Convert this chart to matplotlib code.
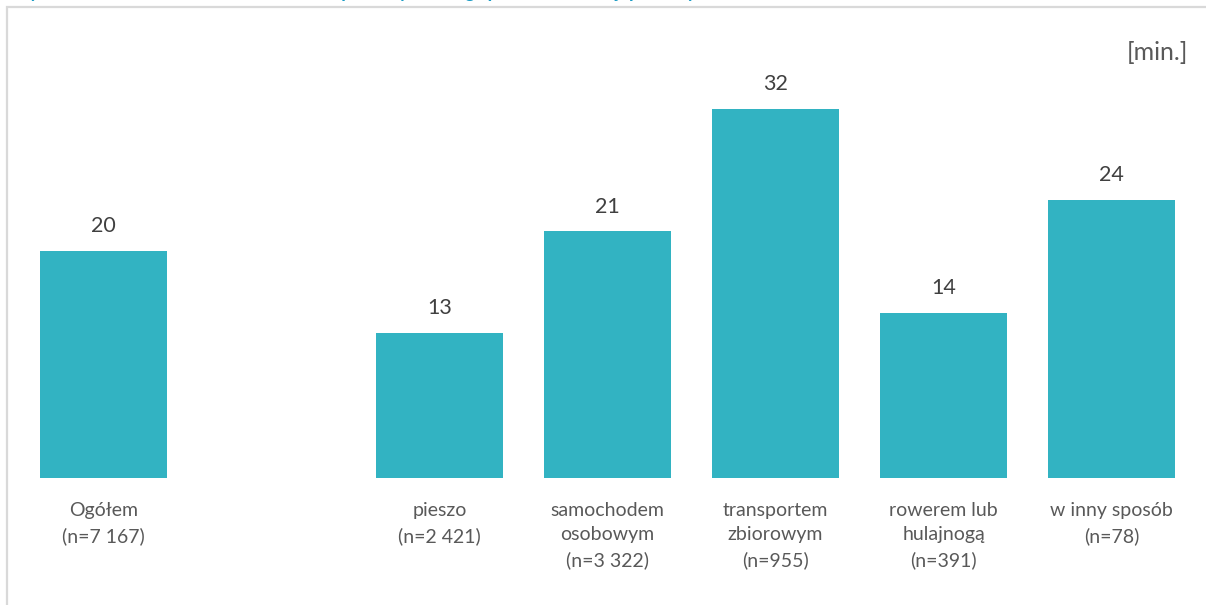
import matplotlib
matplotlib.use("Agg")
import matplotlib.pyplot as plt
from matplotlib.patches import Rectangle

# travel time by mode of travel (minutes)
categories = ["Ogółem\n(n=7 167)", "", "pieszo\n(n=2 421)",
              "samochodem\nosobowym\n(n=3 322)", "transportem\nzbiorowym\n(n=955)",
              "rowerem lub\nhulajnogą\n(n=391)", "w inny sposób\n(n=78)"]
values = [19.7, None, 12.6, 21.4, 32.0, 14.3, 24.1]
labels = ["20", "", "13", "21", "32", "14", "24"]
title = "Wykres 12. Średni czas dotarcia do celu podróży według sposobu realizacji podróży"

BAR = "#32b3c2"
W, H = 1206, 605

plt.rcParams["font.family"] = ["Lato", "DejaVu Sans"]
fig = plt.figure(figsize=(W / 100, H / 100), dpi=100)
ax = fig.add_axes([19.5 / W, (H - 478) / H, (1195.5 - 19.5) / W, (478 - 40) / H])

xs = [i for i, v in enumerate(values) if v is not None]
vs = [v for v in values if v is not None]
ax.bar(xs, vs, width=0.756, color=BAR)
for x, v in zip(xs, vs):
    ax.annotate(labels[x], (x, v), xytext=(0, 13.5), textcoords="offset points",
                ha="center", va="baseline", fontsize=15.5, color="#404040")

ax.set_xlim(-0.5, 6.5)
ax.set_ylim(0, 38)
ax.set_yticks([])
ax.set_xticks(range(len(categories)))
ax.set_xticklabels(categories, fontsize=14, color="#595959", linespacing=1.55)
ax.tick_params(axis="x", length=0, pad=17)
for s in ax.spines.values():
    s.set_visible(False)

fig.text(1188 / W, 1 - 52 / H, "[min.]", ha="right", va="center", fontsize=18, color="#595959")
# title sits almost entirely above the top edge, as in the source picture
fig.text(10 / W, 1 + 2 / H, title, ha="left", va="baseline", fontsize=13.3,
         fontweight="bold", color="#1a9bc4")

# light gray frame (only top and left edges fall inside the picture)
fig.add_artist(Rectangle((6.5 / W, -0.5), 2, 1.5 - 7 / H, transform=fig.transFigure,
                         fill=False, edgecolor="#d9d9d9", lw=1.6, clip_on=False))

fig.savefig("out.png", dpi=100)
